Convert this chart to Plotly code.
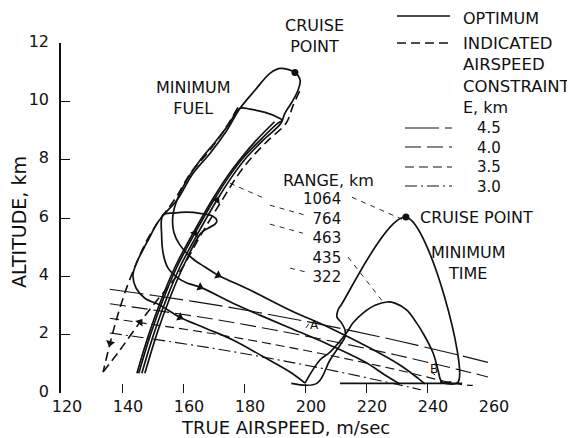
import math

import plotly.graph_objects as go

# ---- minimum-fuel trajectories (true airspeed m/s, altitude km) ----
fuel_1064_v = [146.5, 150.5, 154.4, 159.0, 164.9, 171.1, 176.4, 180.6, 186.2, 192.1,
               193.4, 195.7, 197.7, 198.4, 196.7, 191.8, 188.5, 183.6, 178.7, 174.4,
               168.9, 163.3, 158.0, 154.1, 151.8, 148.2, 144.9, 143.6, 144.6, 147.5,
               152.5, 159.0, 167.2, 176.4, 185.9, 195.1, 200.0]
fuel_1064_h = [0.68, 2.05, 3.18, 4.32, 5.48, 6.61, 7.47, 8.05, 8.66, 9.25,
               9.59, 9.97, 10.38, 10.72, 10.99, 11.13, 10.96, 10.38, 9.76, 9.01,
               8.22, 7.53, 6.61, 6.16, 5.86, 5.17, 4.49, 4.04, 3.60, 3.25,
               3.01, 2.60, 2.23, 1.82, 1.27, 0.72, 0.34]

fuel_764_v = [145.5, 149.5, 153.4, 158.0, 163.9, 170.1, 175.4, 179.6, 185.2, 191.1,
              192.5, 191.1, 186.9, 182.0, 178.7, 174.8, 170.5, 165.6, 161.6, 158.4,
              156.7, 157.0, 159.0, 163.0, 167.2, 171.5, 182.0, 195.1, 208.2, 221.3,
              231.1, 237.0, 239.3]
fuel_764_h = [0.68, 2.05, 3.18, 4.32, 5.48, 6.61, 7.47, 8.05, 8.66, 9.25,
              9.35, 9.45, 9.62, 9.73, 9.76, 9.18, 8.60, 7.98, 7.36, 6.71,
              6.10, 5.51, 5.07, 4.62, 4.32, 4.04, 3.53, 2.84, 2.23, 1.54,
              0.96, 0.51, 0.31]

fuel_463_v = [147.5, 151.5, 155.4, 160.0, 165.9, 168.2, 170.5, 171.1, 169.8, 165.6,
              161.3, 157.0, 153.4, 153.0, 153.6, 155.1, 158.4, 161.3, 165.6, 176.4,
              185.2, 195.1, 208.2, 219.7, 226.2, 231.1]
fuel_463_h = [0.68, 2.05, 3.18, 4.32, 5.48, 5.65, 5.79, 5.92, 6.06, 6.16,
              6.20, 6.17, 6.10, 5.41, 4.73, 4.28, 3.94, 3.77, 3.63, 3.08,
              2.67, 2.23, 1.64, 1.06, 0.62, 0.31]

fuel_extra_v = [144.9, 148.9, 152.8, 157.4, 163.3, 169.5, 174.8, 179.0, 184.0, 190.0]
fuel_extra_h = [0.68, 2.05, 3.18, 4.32, 5.48, 6.61, 7.47, 8.05, 8.66, 9.30]

# ---- indicated airspeed constraint (dashed) ----
ias_climb_v = [133.8, 139.3, 145.9, 151.5, 156.7, 159.7, 166.2, 172.8, 178.0, 182.3,
               187.9, 193.8, 196.1, 198.4]
ias_climb_h = [0.72, 1.47, 2.43, 3.18, 3.84, 4.28, 5.48, 6.61, 7.47, 8.05,
               8.66, 9.25, 9.86, 10.38]
ias_descent_v = [178.0, 173.7, 168.2, 162.6, 157.3, 151.8, 148.2, 144.9, 141.6, 138.4,
                 136.1, 133.8]
ias_descent_h = [9.79, 9.04, 8.25, 7.56, 6.64, 5.86, 5.24, 4.49, 3.63, 2.60,
                 1.71, 0.72]

# ---- minimum-time trajectories ----
time_big_v = [195.5, 203.9, 208.2, 211.5, 213.1, 213.1, 211.8, 210.5, 210.8, 211.8,
              233.1, 250.2, 244.3]
time_big_h = [0.33, 0.33, 1.13, 1.64, 1.92, 2.16, 2.43, 2.60, 2.84, 3.01,
              6.03, 0.38, 0.38]
time_hump_v = [200.0, 204.9, 208.2, 213.8, 215.7, 219.0, 223.0, 226.9, 229.5, 233.4,
               236.4, 238.7, 242.0, 243.6, 244.9, 248.0]
time_hump_h = [0.34, 1.13, 1.40, 2.09, 2.40, 2.74, 3.01, 3.12, 3.08, 2.84,
               2.43, 2.05, 1.37, 0.79, 0.38, 0.38]
time_floor_v = [211.5, 251.5]
time_floor_h = [0.33, 0.33]

cruise_v = [196.7, 233.1]
cruise_h = [10.99, 6.03]

# ---- energy-height lines ----
e_labels = ["4.5", "4.0", "3.5", "3.0"]
e45_v = [136, 150, 170, 190, 210, 230, 250, 260]
e45_h = [3.56, 3.35, 3.03, 2.66, 2.25, 1.80, 1.31, 1.05]
e40_v = [136, 150, 170, 190, 210, 230, 250, 260]
e40_h = [3.06, 2.85, 2.53, 2.16, 1.75, 1.30, 0.81, 0.55]
e35_v = [136, 150, 170, 190, 210, 230, 250, 255]
e35_h = [2.56, 2.35, 2.03, 1.66, 1.25, 0.80, 0.31, 0.26]
e30_v = [136, 150, 170, 190, 210, 230, 238]
e30_h = [2.06, 1.85, 1.53, 1.16, 0.75, 0.30, 0.11]

# ---- range labels and leader lines ----
range_labels = ["1064", "764", "463", "435", "322"]
leaders = [
    ([175.4, 185.9], [7.19, 6.71]),
    ([215.4, 231.8], [6.71, 5.96]),
    ([188.5, 200.0], [6.44, 6.10]),
    ([188.5, 199.3], [5.79, 5.48]),
    ([214.1, 225.6], [4.66, 3.12]),
    ([195.1, 200.7], [4.28, 4.14]),
    ([200.3, 201.6], [2.23, 2.43]),
    ([241.3, 243.6], [0.72, 0.55]),
]

x_ticks = [120, 140, 160, 180, 200, 220, 240, 260]
y_ticks = [0, 2, 4, 6, 8, 10, 12]

FONT = "DejaVu Sans"
INK = "#111111"

curves = {
    "fuel_1064": (fuel_1064_v, fuel_1064_h),
    "fuel_764": (fuel_764_v, fuel_764_h),
    "fuel_463": (fuel_463_v, fuel_463_h),
    "ias_climb": (ias_climb_v, ias_climb_h),
    "ias_descent": (ias_descent_v, ias_descent_h),
}
# (curve, vertex index) where an arrowhead sits
arrow_at = [("fuel_1064", 31), ("fuel_1064", 5), ("fuel_764", 25), ("fuel_764", 4),
            ("fuel_463", 18), ("ias_climb", 2), ("ias_descent", 10)]

fig = go.Figure()

solid = {"color": INK, "width": 1.7}
for v, h in [(fuel_1064_v, fuel_1064_h), (fuel_764_v, fuel_764_h), (fuel_463_v, fuel_463_h),
             (fuel_extra_v, fuel_extra_h), (time_big_v, time_big_h),
             (time_hump_v, time_hump_h), (time_floor_v, time_floor_h)]:
    fig.add_trace(go.Scatter(x=v, y=h, mode="lines", line=solid, line_shape="spline",
                             showlegend=False, hoverinfo="skip"))

for v, h in [(ias_climb_v, ias_climb_h), (ias_descent_v, ias_descent_h)]:
    fig.add_trace(go.Scatter(x=v, y=h, mode="lines", showlegend=False, hoverinfo="skip",
                             line={"color": INK, "width": 1.6, "dash": "9px,5px"},
                             line_shape="spline"))

e_dashes = ["34px,6px", "16px,6px", "9px,5px", "12px,4px,2px,4px"]
for (v, h), dash in zip([(e45_v, e45_h), (e40_v, e40_h), (e35_v, e35_h), (e30_v, e30_h)], e_dashes):
    fig.add_trace(go.Scatter(x=v, y=h, mode="lines", line_shape="spline", showlegend=False,
                             hoverinfo="skip", line={"color": INK, "width": 1.1, "dash": dash}))

for v, h in leaders:
    fig.add_trace(go.Scatter(x=v, y=h, mode="lines", showlegend=False, hoverinfo="skip",
                             line={"color": INK, "width": 0.9, "dash": "5px,5px"}))

# arrowheads oriented along the local direction of each curve
px_v = 427 / 140
px_h = 350 / 12
ax, ay, ang = [], [], []
for name, i in arrow_at:
    v, h = curves[name]
    ax.append(v[i])
    ay.append(h[i])
    ang.append(math.degrees(math.atan2((v[i + 1] - v[i - 1]) * px_v, (h[i + 1] - h[i - 1]) * px_h)))
fig.add_trace(go.Scatter(x=ax, y=ay, mode="markers", showlegend=False, hoverinfo="skip",
                         marker={"symbol": "triangle-up", "size": 8, "color": INK, "angle": ang}))

fig.add_trace(go.Scatter(x=cruise_v, y=cruise_h, mode="markers", showlegend=False,
                         hoverinfo="skip", marker={"size": 7, "color": INK}))


# ---- text ----
def px_x(p):
    return (p - 61) / 427


def px_y(p):
    return (393 - p) / 350


def note(px, py, text, size=16, xanchor="center", align="center", **kw):
    # position given in screen pixels of the plot frame
    fig.add_annotation(x=px_x(px), y=px_y(py), xref="paper", yref="paper", text=text,
                       showarrow=False, xanchor=xanchor, yanchor="middle", align=align,
                       font={"family": FONT, "size": size, "color": INK}, **kw)


note(314, 36, "CRUISE<br>POINT")
note(193, 98, "MINIMUM<br>FUEL")
note(328, 181, "RANGE, km")
note(343, 238, "<br>".join(range_labels), size=15, xanchor="right", align="right")
note(418, 217, "CRUISE POINT", xanchor="left")
note(468, 263, "MINIMUM<br>TIME")
note(314, 325, "A", size=12)
note(434, 369, "B", size=12)

# legend
for py, dash in [(16, "solid"), (43, "9px,5px")]:
    fig.add_shape(type="line", xref="paper", yref="paper", x0=px_x(397), x1=px_x(450),
                  y0=px_y(py), y1=px_y(py), line={"color": INK, "width": 1.5, "dash": dash})
note(461, 18, "OPTIMUM", xanchor="left")
note(461, 65, "INDICATED<br>AIRSPEED<br>CONSTRAINT", size=16.5, xanchor="left", align="left")
note(461, 107, "E, km", xanchor="left")
for py, dash in zip([128, 147, 167, 186], e_dashes):
    fig.add_shape(type="line", xref="paper", yref="paper", x0=px_x(405), x1=px_x(452),
                  y0=px_y(py), y1=px_y(py), line={"color": INK, "width": 1.1, "dash": dash})
note(475, 157, "<br>".join(e_labels), size=15, xanchor="left", align="left")

# axis titles
note(285, 427, "TRUE AIRSPEED, m/sec", size=18)
note(19, 222, "ALTITUDE, km", size=19, textangle=-90)

# the page adds an 8 px body margin, so the margins are trimmed to keep the plot in place
fig.update_layout(
    width=575,
    height=438,
    margin={"l": 53, "r": 95, "t": 35, "b": 53},
    plot_bgcolor="white",
    paper_bgcolor="white",
    font={"family": FONT, "size": 16, "color": INK},
    showlegend=False,
)
fig.update_xaxes(range=[120, 260], tickvals=x_ticks, ticks="inside", ticklen=9,
                 tickcolor=INK, tickwidth=1.3, showline=False, showgrid=False,
                 zeroline=False, ticklabelstandoff=2, ticklabelshift=6, tickfont={"size": 16})
fig.update_yaxes(range=[0, 12], tickvals=y_ticks, ticks="inside", ticklen=9,
                 tickcolor=INK, tickwidth=1.3, showline=True, linecolor=INK, linewidth=1.5,
                 showgrid=False, zeroline=False, ticklabelstandoff=7, ticklabelshift=-2,
                 tickfont={"size": 16})

fig.write_html("out.html")
